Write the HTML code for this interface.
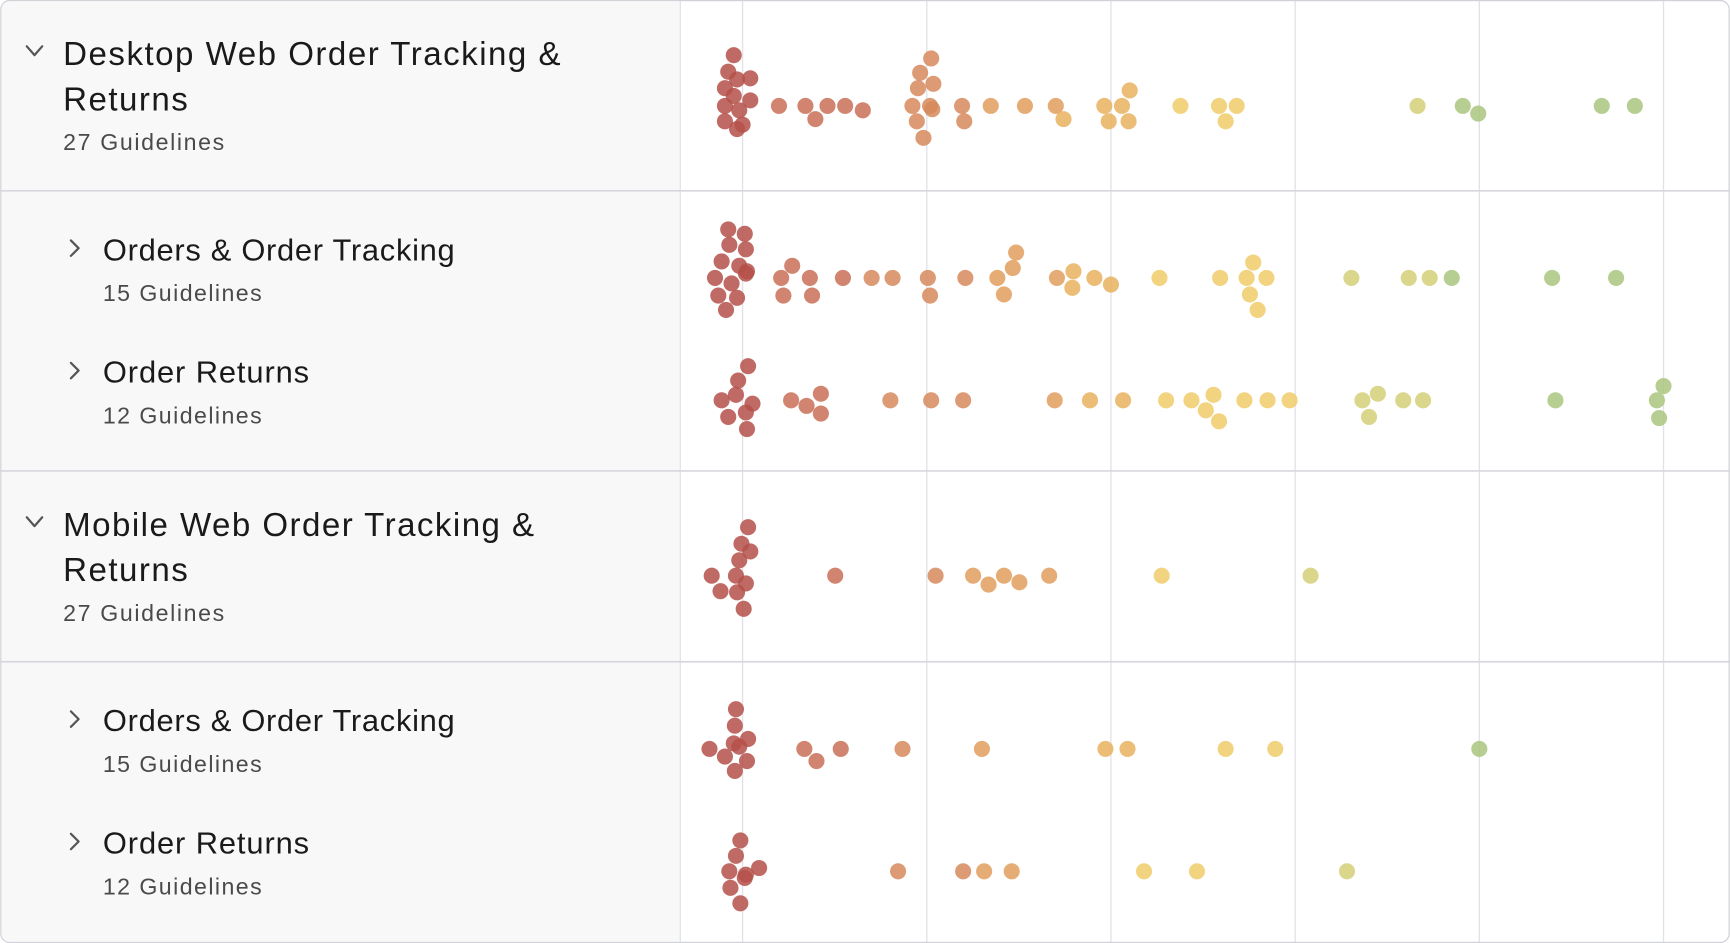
<!DOCTYPE html>
<html><head><meta charset="utf-8"><style>
html,body{margin:0;padding:0;background:#fff;}
svg{display:block;font-family:"Liberation Sans",sans-serif;}
</style></head><body>
<svg id="s" width="1730" height="943" viewBox="0 0 1568 855" xmlns="http://www.w3.org/2000/svg">
<rect x="0.5" y="0.5" width="1567" height="854" rx="8" fill="#fff" stroke="#d6d8de"/>
<path d="M8.5 0.5 H616 V854.5 H8.5 A8 8 0 0 1 0.5 846.5 V8.5 A8 8 0 0 1 8.5 0.5Z" fill="#f8f8f8"/>
<g stroke="#e1e2e7" stroke-width="1.2">
<line x1="673" y1="0" x2="673" y2="855"/><line x1="840" y1="0" x2="840" y2="855"/>
<line x1="1007" y1="0" x2="1007" y2="855"/><line x1="1174" y1="0" x2="1174" y2="855"/>
<line x1="1341" y1="0" x2="1341" y2="855"/><line x1="1508" y1="0" x2="1508" y2="855"/>
</g>
<line x1="616.5" y1="0" x2="616.5" y2="855" stroke="#dcdde2"/>
<g stroke="#d6d8de" stroke-width="1.5">
<line x1="0" y1="173" x2="1568" y2="173"/><line x1="0" y1="427" x2="1568" y2="427"/><line x1="0" y1="600" x2="1568" y2="600"/>
</g>
<rect x="0.5" y="0.5" width="1567" height="854" rx="8" fill="none" stroke="#d0d2d8"/>
<g fill="none" stroke="#555" stroke-width="2" stroke-linecap="round" stroke-linejoin="round">
<polyline points="24,42 31,50 38,42"/><polyline points="24,469 31,477 38,469"/>
<polyline points="64,218 71,225 64,232"/><polyline points="64,329 71,336 64,343"/>
<polyline points="64,645 71,652 64,659"/><polyline points="64,756 71,763 64,770"/>
</g>
<g fill="#1a1a1a" font-size="30">
<text x="57" y="59" textLength="451">Desktop Web Order Tracking &amp;</text><text x="57" y="100" textLength="113">Returns</text>
<text x="57" y="486" textLength="427">Mobile Web Order Tracking &amp;</text><text x="57" y="527" textLength="113">Returns</text>
</g>
<g fill="#1a1a1a" font-size="28">
<text x="93" y="236" textLength="319">Orders &amp; Order Tracking</text><text x="93" y="347" textLength="187">Order Returns</text>
<text x="93" y="663" textLength="319">Orders &amp; Order Tracking</text><text x="93" y="774" textLength="187">Order Returns</text>
</g>
<g fill="#4a4a4a" font-size="21">
<text x="57" y="136" textLength="146">27 Guidelines</text><text x="93" y="273" textLength="144">15 Guidelines</text><text x="93" y="384" textLength="144">12 Guidelines</text>
<text x="57" y="563" textLength="146">27 Guidelines</text><text x="93" y="700" textLength="144">15 Guidelines</text><text x="93" y="811" textLength="144">12 Guidelines</text>
</g>
<g id="dots"></g>
</svg>
<script>
var pts=[[665,50],[660,65],[668,72],[680,71],[657,80],[665,87],[680,91],[657,96],[670,100],[657,110],[668,117],[673,113],[706,96],[730,96],[739,108],[750,96],[766,96],[782,100],
[844,53],[834,66],[846,76],[832,80],[827,96],[843,96],[845,99],[831,110],[837,125],[872,96],[874,110],[898,96],[929,96],[957,96],[964,108],[1001,96],[1005,110],[1017,96],[1024,82],[1023,110],[1070,96],[1105,96],[1121,96],[1111,110],[1285,96],[1326,96],[1340,103],[1452,96],[1482,96],
[660,208],[675,212],[661,222],[676,226],[654,237],[670,241],[677,246],[648,252],[663,257],[676,248],[651,268],[668,270],[658,281],[718,241],[708,252],[734,252],[710,268],[736,268],[764,252],[790,252],[809,252],[841,252],[843,268],[875,252],[904,252],[910,267],[918,243],[921,229],[958,252],[973,246],[972,261],[992,252],[1007,258],[1051,252],[1106,252],[1130,252],[1136,238],[1148,252],[1133,267],[1140,281],[1225,252],[1277,252],[1296,252],[1316,252],[1407,252],[1465,252],
[678,332],[669,345],[654,363],[667,358],[682,366],[660,378],[676,374],[677,389],[717,363],[731,368],[744,357],[744,375],[807,363],[844,363],[873,363],[956,363],[988,363],[1018,363],[1057,363],[1080,363],[1100,358],[1093,372],[1105,382],[1128,363],[1149,363],[1169,363],[1235,363],[1249,357],[1241,378],[1272,363],[1290,363],[1410,363],[1508,350],[1502,363],[1504,379],
[678,478],[672,493],[680,500],[670,508],[645,522],[667,522],[676,529],[653,536],[668,537],[674,552],[757,522],[848,522],[882,522],[896,530],[910,522],[924,528],[951,522],[1053,522],[1188,522],
[667,643],[666,658],[678,670],[665,674],[643,679],[670,677],[677,690],[657,686],[666,699],[729,679],[740,690],[762,679],[818,679],[890,679],[1002,679],[1022,679],[1111,679],[1156,679],[1341,679],
[671,762],[667,776],[661,790],[676,793],[688,787],[675,796],[662,805],[671,819],[814,790],[873,790],[892,790],[917,790],[1037,790],[1085,790],[1221,790]];
function col(x){if(x<700)return"#b5504a";if(x<790)return"#c96e56";if(x<880)return"#d68a5c";if(x<960)return"#e09e5e";if(x<1030)return"#e8b15e";if(x<1170)return"#f0cb6a";if(x<1300)return"#d3cf78";return"#aac67f";}
var g=document.getElementById("dots"),h="";
pts.forEach(function(p){h+='<circle cx="'+p[0]+'" cy="'+p[1]+'" r="7.3" fill="'+col(p[0])+'" fill-opacity="0.85"/>';});
g.innerHTML=h;
</script>
</body></html>
